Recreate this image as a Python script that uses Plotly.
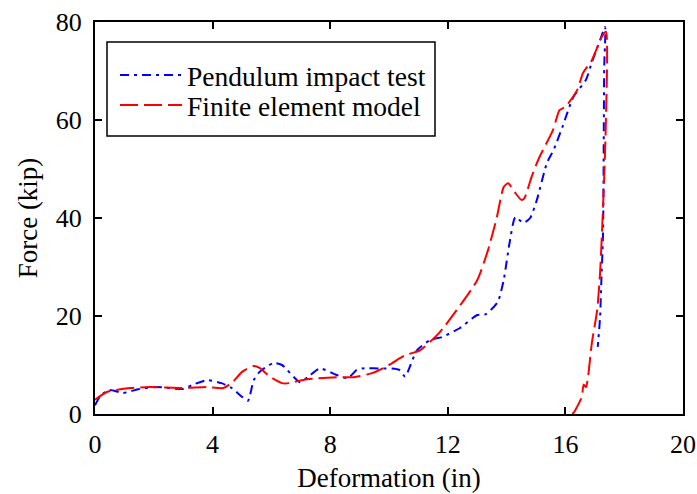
import plotly.graph_objects as go

# Pendulum impact test (measured)
test_x = [0.0, 0.2, 0.5, 0.95, 1.5, 2.1, 3.0, 3.3, 3.8, 4.3, 4.65, 5.0, 5.2, 5.4, 5.6,
          6.07, 6.36, 6.97, 7.25, 7.65, 8.2, 8.6, 8.9, 9.1, 9.8, 10.1, 10.35, 10.55,
          10.7, 10.95, 11.4, 11.8, 12.4, 13.0, 13.3, 13.7, 13.9, 14.1, 14.3, 14.57,
          14.8, 15.03, 15.37, 15.6, 15.9, 16.27, 16.7, 16.9, 17.18, 17.35, 17.32,
          17.28, 17.22, 17.18, 17.1]
test_y = [1.8, 3.8, 4.9, 4.3, 5.1, 5.5, 5.1, 5.9, 6.9, 6.3, 5.3, 3.5, 2.7, 6.9, 8.6,
          10.4, 10.0, 6.5, 7.6, 9.3, 8.0, 7.3, 9.0, 9.3, 9.3, 9.3, 9.0, 7.6,
          9.5, 13.0, 15.1, 15.7, 17.5, 20.2, 20.4, 22.9, 27.3, 34.9, 40.2, 39.0,
          40.0, 43.7, 51.2, 53.9, 58.6, 64.7, 68.2, 71.8, 76.3, 79.0, 70.8,
          36.9, 26.7, 19.8, 13.7]

# Finite element model
fe_x = [0.0, 0.4, 1.2, 1.87, 3.0, 3.8, 4.37, 4.7, 5.0, 5.4, 5.6, 5.95, 6.36, 6.6,
        7.2, 8.3, 8.8, 9.45, 10.0, 10.37, 10.55, 11.05, 11.7, 12.3, 13.0, 13.37,
        13.67, 13.9, 14.05, 14.3, 14.5, 14.6, 14.85, 15.1, 15.58, 15.8, 16.0, 16.4,
        16.6, 16.9, 17.24, 17.38, 17.37, 17.28, 17.18, 17.08, 16.9, 16.77, 16.7,
        16.62, 16.56, 16.4, 16.27, 16.15]
fe_y = [2.9, 4.5, 5.3, 5.5, 5.3, 5.5, 5.3, 6.6, 8.6, 9.8, 9.4, 7.6, 6.3, 6.3,
        7.1, 7.5, 7.5, 8.4, 10.0, 11.4, 12.0, 13.0, 16.5, 21.2, 27.3, 33.5,
        40.2, 46.3, 47.1, 45.1, 43.7, 44.0, 48.4, 52.2, 58.0, 62.0, 62.7, 66.1,
        69.6, 72.2, 77.0, 78.0, 58.0, 42.2, 28.8, 21.2, 14.5, 7.6, 5.5,
        6.0, 3.5, 1.5, 0.2, 0.0]

x_ticks = [0, 4, 8, 12, 16, 20]
y_ticks = [0, 20, 40, 60, 80]

FONT = "Liberation Serif, Times New Roman, serif"
L, R, T, B = 95, 14, 22, 80
W, H = 697, 494
PW, PH = W - L - R, H - T - B


def px_x(p):
    return (p - L) / PW


def px_y(p):
    return (H - B - p) / PH


fig = go.Figure()
fig.add_trace(go.Scatter(x=test_x, y=test_y, mode="lines", name="Pendulum impact test",
                         legend="legend", showlegend=True,
                         line=dict(color="#0000FF", width=2, dash="9px,5px,3px,5px", shape="spline",
                                   smoothing=0.6)))
fig.add_trace(go.Scatter(x=fe_x, y=fe_y, mode="lines", name="Finite element model",
                         legend="legend2", showlegend=True,
                         line=dict(color="#FF0000", width=2, dash="18px,6px", shape="spline",
                                   smoothing=0.6)))

axis_common = dict(showline=True, linecolor="black", linewidth=2, mirror="ticks",
                   ticks="inside", ticklen=7, tickwidth=2, tickcolor="black",
                   showgrid=False, zeroline=False, automargin=False,
                   tickfont=dict(size=26, family=FONT, color="black"))

fig.update_xaxes(range=[0, 20], tickvals=x_ticks, ticktext=[str(v) for v in x_ticks],
                 title=dict(text="Deformation (in)", font=dict(size=27, family=FONT, color="black"),
                            standoff=10),
                 ticklabelstandoff=6, **axis_common)
fig.update_yaxes(range=[0, 80], tickvals=y_ticks, ticktext=[str(v) for v in y_ticks],
                 title=dict(text="Force (kip)", font=dict(size=27, family=FONT, color="black"),
                            standoff=10),
                 ticklabelstandoff=6, **axis_common)

# legend frame
fig.add_shape(type="rect", xref="paper", yref="paper",
              x0=px_x(107), x1=px_x(435), y0=px_y(136), y1=px_y(42),
              line=dict(color="black", width=1.5), fillcolor="white", layer="below")

leg_common = dict(xanchor="left", yanchor="middle", bgcolor="rgba(0,0,0,0)", borderwidth=0,
                  itemwidth=62, font=dict(size=27.5, family=FONT, color="black"), visible=True)

fig.update_layout(
    width=W, height=H,
    showlegend=True,
    margin=dict(l=L, r=R, t=T, b=B, autoexpand=False),
    paper_bgcolor="white", plot_bgcolor="white",
    font=dict(family=FONT, color="black"),
    legend=dict(x=px_x(115), y=px_y(75), **leg_common),
    legend2=dict(x=px_x(115), y=px_y(105), **leg_common),
)

fig.write_html("out.html", config={"displayModeBar": False},
               post_script="document.body.style.margin='0px';")
